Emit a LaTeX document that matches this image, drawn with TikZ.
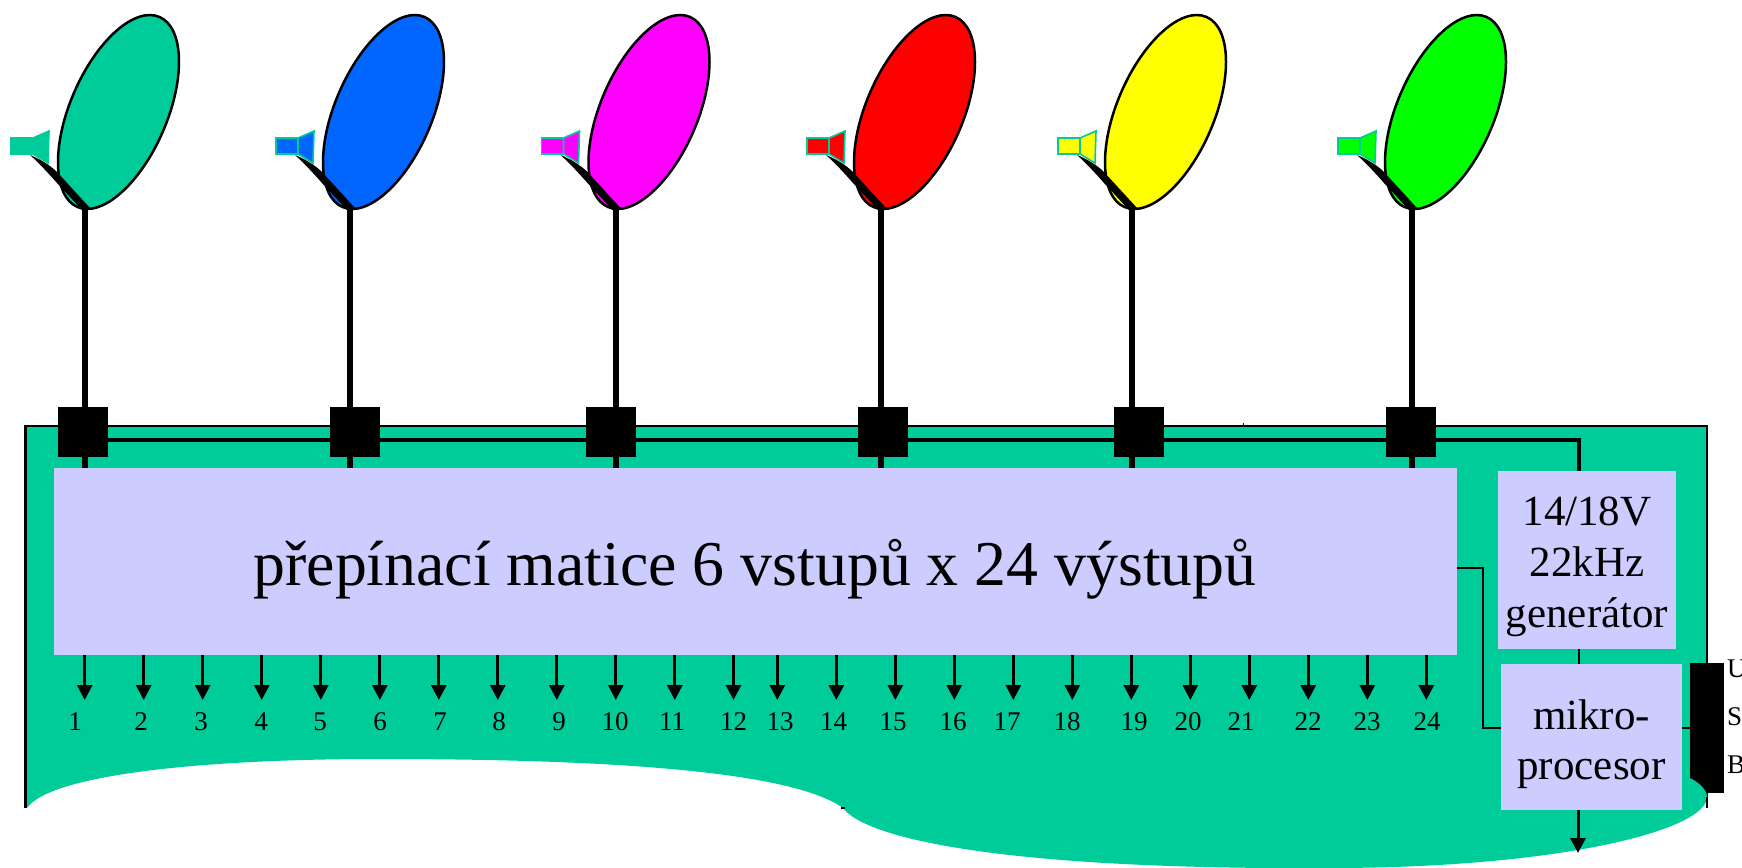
\documentclass[tikz,border=0pt]{standalone}
\usepackage{fontspec}
\usepackage{tikz}
\usetikzlibrary{arrows.meta,shapes.geometric}
\setmainfont{Liberation Serif}
\definecolor{deck}{HTML}{00CC99}
\definecolor{panel}{HTML}{CCCCFF}
\definecolor{dishblue}{HTML}{0066FF}
\definecolor{dishpink}{HTML}{FF00FF}
\definecolor{dishred}{HTML}{FF0000}
\definecolor{dishyellow}{HTML}{FFFF00}
\definecolor{dishgreen}{HTML}{00FF00}

\begin{document}
\begin{tikzpicture}[x=1pt, y=-1pt, dish/.style = {shape=ellipse, draw, line width=2.5pt, inner sep=0pt, minimum width=97pt, minimum height=207pt, rotate=-23.3}, port/.style = {shape=rectangle, fill=black, inner sep=0pt, minimum width=50pt, minimum height=50pt}, box/.style = {shape=rectangle, fill=panel, inner sep=0pt}, caption/.style = {align=center, inner sep=0pt}, num/.style = {font=\fontsize{27}{32}\selectfont, inner sep=0pt}, feed/.style = {draw=deck, line width=1.6pt, line join=miter}, pole/.style = {line width=6pt}, bus/.style = {line width=4pt}, wire/.style = {line width=2pt}, output/.style = {line width=3pt, -{Triangle[length=15pt, width=15pt]}}]
	\useasboundingbox (0,0) rectangle (1742,867);
	\fill[deck] (27,808) .. controls (50,775) and (200,759) .. (378,759) .. controls (600,759) and (790,770) .. (843,808) .. controls (865,838) and (1000,870) .. (1330,868) .. controls (1560,868) and (1707,830) .. (1707,797) -- (1707,426) -- (25.5,426) -- cycle;
	\draw[line width=2.5pt] (25.5,808) -- (25.5,426) -- (1707,426) -- (1707,808);
	\draw[line width=2pt] (841,808) -- (845,808);
	\draw[line width=1pt] (1243.3,426) -- (1243.3,423);
	\foreach \i/\x/\s/\col in {1/85/83/deck, 2/350/355/dishblue, 3/615.5/611/dishpink, 4/881/883/dishred, 5/1132/1139/dishyellow, 6/1412/1411/dishgreen} {
		\node[dish, fill=\col] (dish\i) at (\x+33.5,112) {};
		\begin{scope}[shift={(\x,0)}]
			\filldraw[feed, fill=\col] (-74,138) rectangle (-52,154);
			\filldraw[feed, fill=\col] (-52,138) -- (-36,131) -- (-37,163) -- (-52,154) -- cycle;
			\fill (-55,155) .. controls (-42,160) and (-32,168) .. (-28,172) -- (5,208) -- (-3,210) -- (-28,183) .. controls (-36,174) and (-45,164) .. cycle;
		\end{scope}
		\coordinate (foot\i) at (\x,208);
		\coordinate (tap\i) at (\x,468);
		\draw[pole] (foot\i) -- (tap\i);
	}
	\node[box, minimum width=1403pt, minimum height=187pt] (matice) at (755.5,561.5) {};
	\node[box, minimum width=178pt, minimum height=178pt] (gen) at (1587,560) {};
	\node[box, minimum width=181pt, minimum height=146pt] (mikro) at (1591.5,736.5) {};
	\node[anchor=base, inner sep=0pt, font=\fontsize{63.8}{70}\selectfont] (maticetext) at (755,585.7) {přepínací matice 6 vstupů x 24 výstupů};
	\node[caption, font=\fontsize{43}{51}\selectfont] (gentext) at (1587,566.5) {14/18V\\22kHz\\generátor};
	\node[caption, font=\fontsize{43}{50}\selectfont] (mikrotext) at (1591.5,744.5) {mikro-\\procesor};
	\node[shape=rectangle, fill=black, inner sep=0pt, minimum width=34pt, minimum height=130pt] (usb) at (1707,728) {};
	\fill[deck] (1690,778) .. controls (1700,783) and (1707,790) .. (1707,797) -- (1690,797) -- cycle;
	\node[anchor=north west, align=left, inner sep=0pt, font=\fontsize{27}{48}\selectfont] (usbtext) at (1727,660) {U\\S\\B};
	\coordinate (bus1) at (83,440);
	\coordinate (genin) at (1579,471);
	\coordinate (genout) at (1579,649);
	\coordinate (mikroup) at (1579,663.5);
	\coordinate (matout) at (1457,568);
	\coordinate (turn) at (1483,568);
	\coordinate (mikroin) at (1500.7,727.7);
	\coordinate (mikroout) at (1682,727.7);
	\coordinate (usbin) at (1690,727.7);
	\coordinate (mikrodown) at (1578,809.5);
	\coordinate (exit) at (1578,853);
	\draw[bus] (bus1) -| (genin);
	\draw[wire] (genout) -- (mikroup);
	\draw[wire] (matout) -- (turn) |- (mikroin);
	\draw[wire] (mikroout) -- (usbin);
	\draw[output] (mikrodown) -- (exit);
	\foreach \i/\s in {1/83, 2/355, 3/611, 4/883, 5/1139, 6/1411} {
		\node[port] (sw\i) at (\s,432) {};
	}
	\foreach \i/\x/\l in {1/84.7/75, 2/143.7/141, 3/202.7/201, 4/261.7/261, 5/320.8/320, 6/379.8/380, 7/438.8/440, 8/497.8/499, 9/556.8/559, 10/615.8/615, 11/674.8/672, 12/733.5/733.5, 13/777.3/780, 14/836.3/833.5, 15/895.3/893, 16/954.3/953, 17/1013.3/1007, 18/1072.3/1067, 19/1131.3/1134, 20/1190.3/1188, 21/1249.3/1241, 22/1308.3/1308, 23/1367.3/1367, 24/1426.3/1427} {
		\coordinate (out\i) at (\x,700);
		\draw[output] (out\i |- matice.south) -- (out\i);
		\node[num] (n\i) at (\l,722) {\i};
	}
\end{tikzpicture}
\end{document}
